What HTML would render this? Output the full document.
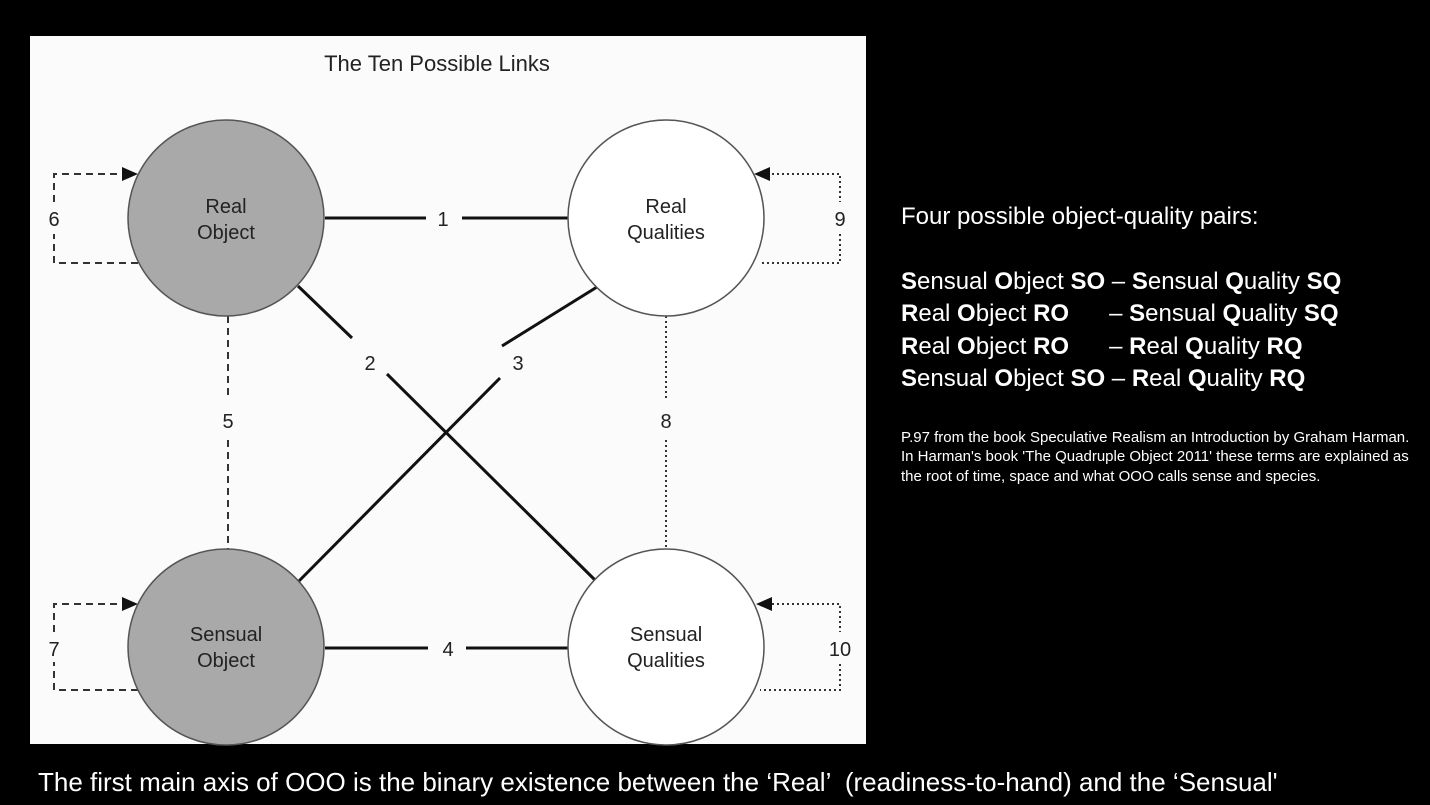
<!DOCTYPE html>
<html><head><meta charset="utf-8"><style>
body{margin:0;background:#000;width:1430px;height:805px;overflow:hidden;font-family:"Liberation Sans",sans-serif}
svg{position:absolute;left:0;top:0}
.r{position:absolute;color:#fff;left:901px}
</style></head><body>
<svg width="1430" height="805" font-family="Liberation Sans, sans-serif">
<rect x="30" y="36" width="836" height="708" fill="#fbfbfb"/>
<text x="437" y="71" font-size="22" text-anchor="middle" fill="#222">The Ten Possible Links</text>
<g stroke="#111" stroke-width="3" fill="none">
<line x1="325" y1="218" x2="426" y2="218"/><line x1="462" y1="218" x2="568" y2="218"/>
<line x1="325" y1="648" x2="428" y2="648"/><line x1="466" y1="648" x2="568" y2="648"/>
<line x1="298" y1="286" x2="352" y2="338"/><line x1="387" y1="374" x2="597" y2="582"/>
<line x1="597" y1="287" x2="502" y2="346"/><line x1="500" y1="378" x2="298" y2="582"/>
</g>
<g stroke="#333" stroke-width="2" fill="none" stroke-dasharray="7,5">
<line x1="228" y1="316" x2="228" y2="400"/><line x1="228" y1="440" x2="228" y2="552"/>
<polyline points="138,263 54,263 54,234"/><polyline points="54,202 54,174 124,174"/>
<polyline points="138,690 54,690 54,662"/><polyline points="54,632 54,604 124,604"/>
</g>
<g stroke="#333" stroke-width="2" fill="none" stroke-dasharray="2,3">
<line x1="666" y1="316" x2="666" y2="400"/><line x1="666" y1="440" x2="666" y2="552"/>
<polyline points="772,174 840,174 840,202"/><polyline points="840,234 840,263 760,263"/>
<polyline points="772,604 840,604 840,632"/><polyline points="840,664 840,690 760,690"/>
</g>
<g fill="#111">
<polygon points="138,174 122,167 122,181"/><polygon points="138,604 122,597 122,611"/>
<polygon points="754,174 770,167 770,181"/><polygon points="756,604 772,597 772,611"/>
</g>
<g stroke="#555" stroke-width="1.5">
<circle cx="226" cy="218" r="98" fill="#a9a9a9"/>
<circle cx="226" cy="647" r="98" fill="#a9a9a9"/>
<circle cx="666" cy="218" r="98" fill="#fff"/>
<circle cx="666" cy="647" r="98" fill="#fff"/>
</g>
<g font-size="20" text-anchor="middle" fill="#222">
<text x="226" y="213">Real</text><text x="226" y="239">Object</text>
<text x="666" y="213">Real</text><text x="666" y="239">Qualities</text>
<text x="226" y="641">Sensual</text><text x="226" y="667">Object</text>
<text x="666" y="641">Sensual</text><text x="666" y="667">Qualities</text>
<text x="443" y="226">1</text><text x="370" y="370">2</text><text x="518" y="370">3</text>
<text x="448" y="656">4</text><text x="228" y="428">5</text><text x="54" y="226">6</text>
<text x="54" y="656">7</text><text x="666" y="428">8</text><text x="840" y="226">9</text>
<text x="840" y="656">10</text>
</g>
</svg>
<div class="r" style="top:203px;font-size:24px">Four possible object-quality pairs:</div>
<div class="r" style="top:266px;font-size:24px;line-height:32.3px;white-space:pre"><b>S</b>ensual <b>O</b>bject <b>SO</b> – <b>S</b>ensual <b>Q</b>uality <b>SQ</b>
<b>R</b>eal <b>O</b>bject <b>RO</b>      – <b>S</b>ensual <b>Q</b>uality <b>SQ</b>
<b>R</b>eal <b>O</b>bject <b>RO</b>      – <b>R</b>eal <b>Q</b>uality <b>RQ</b>
<b>S</b>ensual <b>O</b>bject <b>SO</b> – <b>R</b>eal <b>Q</b>uality <b>RQ</b></div>
<div class="r" style="top:428px;font-size:15px;line-height:19.3px;width:510px">P.97 from the book Speculative Realism an Introduction by Graham Harman. In Harman's book 'The Quadruple Object 2011' these terms are explained as the root of time, space and what OOO calls sense and species.</div>
<div style="position:absolute;left:38px;top:767px;color:#fff;font-size:26px;white-space:pre">The first main axis of OOO is the binary existence between the ‘Real’  (readiness-to-hand) and the ‘Sensual'</div>
</body></html>
